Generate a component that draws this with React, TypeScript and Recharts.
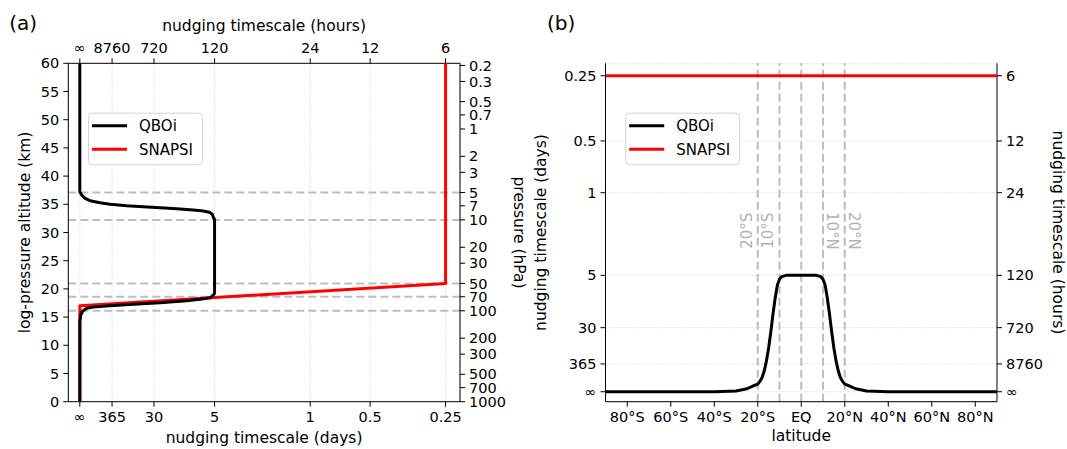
import React from 'react';
import { ScatterChart, Scatter, XAxis, YAxis, CartesianGrid, ReferenceLine } from 'recharts';

const FONT = '"DejaVu Sans", sans-serif';

// nudging timescale ticks (days) and the same ticks in hours
const timescaleDays = [Infinity, 365, 30, 5, 1, 0.5, 0.25];
const timescaleDayLabels = ['∞', '365', '30', '5', '1', '0.5', '0.25'];
const timescaleHourLabels = ['∞', '8760', '720', '120', '24', '12', '6'];

// panel (a) vertical axes
const altitudeTicks = [0, 5, 10, 15, 20, 25, 30, 35, 40, 45, 50, 55, 60];
const pressureTicks = [0.2, 0.3, 0.5, 0.7, 1, 2, 3, 5, 7, 10, 20, 30, 50, 70, 100, 200, 300, 500, 700, 1000];
const dashedPressures = [5, 10, 50, 70, 100];

// panel (a) QBOi profile: log-pressure altitude (km) vs nudging rate (1/day)
const qboiAltitude = [60, 38.1, 37.2, 36.65, 36.06, 35.64, 35.28, 35.0, 34.75, 34.57, 34.4, 34.22, 33.99, 33.81, 33.58, 33.22, 32.69, 32.3, 19.2, 18.8, 18.44, 18.16, 17.91, 17.55, 17.27, 17.02, 16.79, 16.56, 16.08, 15.37, 14.2, 0];
const qboiRate = [0, 0, 0, 5.5e-7, 1.15e-5, 8.7e-5, 6.7e-4, 2.25e-3, 8.4e-3, 0.0209, 0.0422, 0.0744, 0.1195, 0.154, 0.1775, 0.19, 0.1945, 0.2, 0.2, 0.192, 0.18, 0.142, 0.1, 0.0422, 0.0125, 2.25e-3, 2.0e-4, 2.7e-5, 2e-6, 6e-8, 0, 0];

// panel (a) SNAPSI profile
const snapsiAltitude = [60, 20.97, 17.0, 0];
const snapsiRate = [4, 4, 0, 0];

// panel (b) latitude axis
const latTicks = [-80, -60, -40, -20, 0, 20, 40, 60, 80];
const latTickLabels = ['80°S', '60°S', '40°S', '20°S', 'EQ', '20°N', '40°N', '60°N', '80°N'];
const latMarkers = [-20, -10, 0, 10, 20];
const latMarkerLabels = ['20°S', '10°S', '', '10°N', '20°N'];

// panel (b) QBOi: latitude vs nudging rate (1/day)
const qboiLat = [-90, -40, -30, -25, -22, -20, -19, -18, -17, -16, -15, -14, -13, -12, -11, -10, -9, -7, 7, 9, 10, 11, 12, 13, 14, 15, 16, 17, 18, 19, 20, 22, 25, 30, 40, 90];
const qboiLatRate = [0, 0, 6.4e-8, 3.4e-6, 2.7e-5, 5.5e-5, 1.41e-4, 3.73e-4, 1.16e-3, 3.72e-3, 0.01065, 0.027, 0.0593, 0.1038, 0.1531, 0.1804, 0.1931, 0.2, 0.2, 0.1931, 0.1804, 0.1531, 0.1038, 0.0593, 0.027, 0.01065, 3.72e-3, 1.16e-3, 3.73e-4, 1.41e-4, 5.5e-5, 2.7e-5, 3.4e-6, 6.4e-8, 0, 0];

// panel (b) SNAPSI
const snapsiLat = [-90, 90];
const snapsiLatRate = [4, 4];

const seriesNames = ['QBOi', 'SNAPSI'];
const seriesColors = ['#000000', '#ff0000'];

// axis transforms: cube root of nudging rate, log-pressure altitude with H = 7 km
const nudge = (rate: number) => Math.cbrt(rate);
const altOfPressure = (p: number) => 7 * Math.log(1000 / p);
const NUDGE_DOMAIN: [number, number] = [-0.05, 1.65];

const nudgeTicks = timescaleDays.map((d) => nudge(1 / d));
const pressureTickAlt = pressureTicks.map(altOfPressure);

const labelAt = (positions: number[], labels: string[]) => (v: number) => {
  const i = positions.findIndex((p) => Math.abs(p - v) < 1e-6);
  return i >= 0 ? labels[i] : '';
};

const profileA = (alt: number[], rate: number[]) => alt.map((a, i) => ({ x: nudge(rate[i]), y: a }));
const profileB = (lat: number[], rate: number[]) => lat.map((l, i) => ({ x: l, y: nudge(rate[i]) }));

const tickStyle = { fontSize: 14.5, fill: '#000', fontFamily: FONT };
const axisStroke = { stroke: '#000' };
const noShape = () => <g />;

const markerLabel = (text: string, side: number) => (props: any) => {
  const vb = props.viewBox || {};
  if (!text || vb.x === undefined) return null;
  const bx = side < 0 ? vb.x - 6 : vb.x + 4;
  const cy = vb.y + vb.height * 0.495;
  return (
    <text
      x={bx}
      y={cy}
      transform={`rotate(${side < 0 ? -90 : 90}, ${bx}, ${cy})`}
      textAnchor="middle"
      fontSize={15}
      fontFamily={FONT}
      fill="#b3b3b3"
    >
      {text}
    </text>
  );
};

function LegendBox({ x, y }: { x: number; y: number }) {
  return (
    <g>
      <rect x={x + 0.5} y={y + 0.5} width={114} height={51.6} rx={4} fill="#fff" fillOpacity={0.85} stroke="#d4d4d4" />
      {seriesNames.map((name, i) => (
        <g key={name}>
          <line x1={x + 4} x2={x + 39} y1={y + 13 + i * 23.6} y2={y + 13 + i * 23.6} stroke={seriesColors[i]} strokeWidth={3} />
          <text x={x + 51} y={y + 18.3 + i * 23.6} fontSize={15} fontFamily={FONT} fill="#000">
            {name}
          </text>
        </g>
      ))}
    </g>
  );
}

function PanelA() {
  return (
    <ScatterChart width={530} height={449} margin={{ top: 33.3, right: 30, bottom: 17.3, left: 28.3 }}>
      <CartesianGrid xAxisId="b" yAxisId="l" horizontal={false} stroke="#cccccc" strokeDasharray="1 2" />
      <XAxis xAxisId="b" type="number" dataKey="x" domain={NUDGE_DOMAIN} allowDataOverflow ticks={nudgeTicks} interval={0}
        tickFormatter={labelAt(nudgeTicks, timescaleDayLabels)} height={30} tick={tickStyle} tickSize={5} tickMargin={5}
        axisLine={axisStroke} tickLine={axisStroke} />
      <XAxis xAxisId="t" orientation="top" type="number" dataKey="x" domain={NUDGE_DOMAIN} allowDataOverflow ticks={nudgeTicks} interval={0}
        tickFormatter={labelAt(nudgeTicks, timescaleHourLabels)} height={30} tick={tickStyle} tickSize={5} tickMargin={5}
        axisLine={axisStroke} tickLine={axisStroke} />
      <YAxis yAxisId="l" type="number" dataKey="y" domain={[0, 60]} allowDataOverflow ticks={altitudeTicks} interval={0}
        width={40} tick={tickStyle} tickSize={5} tickMargin={4} axisLine={axisStroke} tickLine={axisStroke} />
      <YAxis yAxisId="r" orientation="right" type="number" dataKey="y" domain={[0, 60]} allowDataOverflow ticks={pressureTickAlt} interval={0}
        tickFormatter={labelAt(pressureTickAlt, pressureTicks.map(String))} width={40} tick={tickStyle} tickSize={5} tickMargin={4}
        axisLine={axisStroke} tickLine={axisStroke} />
      {dashedPressures.map((p) => (
        <ReferenceLine key={p} xAxisId="b" yAxisId="l" y={altOfPressure(p)} stroke="#bdbdbd" strokeWidth={2} strokeDasharray="8 4" />
      ))}
      <Scatter xAxisId="b" yAxisId="l" data={profileA(snapsiAltitude, snapsiRate)} fill={seriesColors[1]}
        line={{ stroke: seriesColors[1], strokeWidth: 3, strokeLinejoin: 'round' }} shape={noShape} isAnimationActive={false} />
      <Scatter xAxisId="b" yAxisId="l" data={profileA(qboiAltitude, qboiRate)} fill={seriesColors[0]}
        line={{ stroke: seriesColors[0], strokeWidth: 3, strokeLinejoin: 'round' }} shape={noShape} isAnimationActive={false} />
    </ScatterChart>
  );
}

function PanelB() {
  return (
    <ScatterChart width={537} height={449} margin={{ top: 63.3, right: 20, bottom: 17.3, left: 25.5 }}>
      <CartesianGrid xAxisId="b" yAxisId="l" vertical={false} stroke="#cccccc" strokeDasharray="1 2" />
      <XAxis xAxisId="b" type="number" dataKey="x" domain={[-90, 90]} allowDataOverflow ticks={latTicks} interval={0}
        tickFormatter={labelAt(latTicks, latTickLabels)} height={30} tick={tickStyle} tickSize={5} tickMargin={5}
        axisLine={axisStroke} tickLine={axisStroke} />
      <YAxis yAxisId="l" type="number" dataKey="y" domain={NUDGE_DOMAIN} allowDataOverflow ticks={nudgeTicks} interval={0}
        tickFormatter={labelAt(nudgeTicks, timescaleDayLabels)} width={50} tick={tickStyle} tickSize={5} tickMargin={4}
        axisLine={axisStroke} tickLine={axisStroke} />
      <YAxis yAxisId="r" orientation="right" type="number" dataKey="y" domain={NUDGE_DOMAIN} allowDataOverflow ticks={nudgeTicks} interval={0}
        tickFormatter={labelAt(nudgeTicks, timescaleHourLabels)} width={50} tick={tickStyle} tickSize={5} tickMargin={4}
        axisLine={axisStroke} tickLine={axisStroke} />
      {latMarkers.map((lat, i) => (
        <ReferenceLine key={lat} xAxisId="b" yAxisId="l" x={lat} stroke="#bdbdbd" strokeWidth={2} strokeDasharray="8 4"
          label={markerLabel(latMarkerLabels[i], lat < 0 ? -1 : 1)} />
      ))}
      <Scatter xAxisId="b" yAxisId="l" data={profileB(snapsiLat, snapsiLatRate)} fill={seriesColors[1]}
        line={{ stroke: seriesColors[1], strokeWidth: 3 }} shape={noShape} isAnimationActive={false} />
      <Scatter xAxisId="b" yAxisId="l" data={profileB(qboiLat, qboiLatRate)} fill={seriesColors[0]}
        line={{ stroke: seriesColors[0], strokeWidth: 3, strokeLinejoin: 'round' }} shape={noShape} isAnimationActive={false} />
    </ScatterChart>
  );
}

export default function App() {
  const label = { fontSize: 15.5, fontFamily: FONT, fill: '#000', textAnchor: 'middle' as const };
  return (
    <div style={{ position: 'absolute', left: 0, top: 0, width: 1067, height: 449, background: '#fff', fontFamily: FONT }}>
      <div style={{ position: 'absolute', left: 0, top: 0 }}>
        <PanelA />
      </div>
      <div style={{ position: 'absolute', left: 530, top: 0 }}>
        <PanelB />
      </div>
      <svg width={1067} height={449} style={{ position: 'absolute', left: 0, top: 0, pointerEvents: 'none' }}>
        <text x={9.3} y={30.2} fontSize={20} fontFamily={FONT}>(a)</text>
        <text x={547} y={30.2} fontSize={20} fontFamily={FONT}>(b)</text>
        <text x={264.1} y={30.5} {...label}>nudging timescale (hours)</text>
        <text x={264.1} y={443.3} {...label}>nudging timescale (days)</text>
        <text x={29.5} y={232.5} transform="rotate(-90, 29.5, 232.5)" {...label}>log-pressure altitude (km)</text>
        <text x={514} y={232.5} transform="rotate(90, 514, 232.5)" {...label}>pressure (hPa)</text>
        <text x={545.5} y={232.5} transform="rotate(-90, 545.5, 232.5)" {...label}>nudging timescale (days)</text>
        <text x={1052.5} y={232.5} transform="rotate(90, 1052.5, 232.5)" {...label}>nudging timescale (hours)</text>
        <text x={801.2} y={441} {...label}>latitude</text>
        <LegendBox x={88} y={112.7} />
        <LegendBox x={625.2} y={112.7} />
      </svg>
    </div>
  );
}
